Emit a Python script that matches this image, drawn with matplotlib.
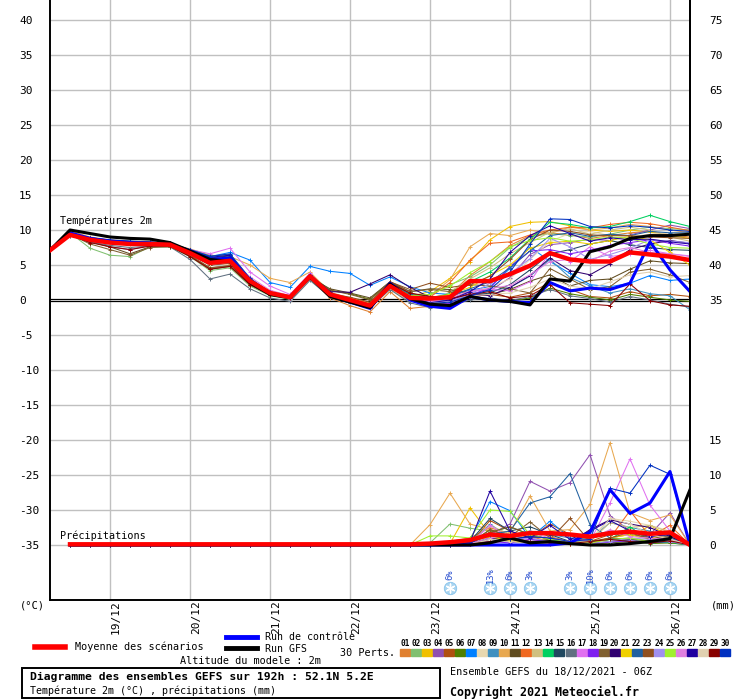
import matplotlib
matplotlib.use('Agg')
import matplotlib.pyplot as plt
import matplotlib.transforms as mtransforms
from matplotlib.patches import Rectangle
from matplotlib.lines import Line2D
import numpy as np

# ---------------- DATA ----------------
HOURS = list(range(0, 193, 6))          # 18/12 06Z .. 26/12 06Z
PR_HOURS = HOURS[1:]
DATE_HOURS = [18, 42, 66, 90, 114, 138, 162, 186]
DATE_LABELS = ['19/12', '20/12', '21/12', '22/12', '23/12', '24/12', '25/12', '26/12']
LEFT_TICKS = [40, 35, 30, 25, 20, 15, 10, 5, 0, -5, -10, -15, -20, -25, -30, -35]
LEFT_LABELS = ['40', '35', '30', '25', '20', '15', '10', '5', '0', '-5', '-10', '-15', '-20', '-25', '-30', '-35']
RIGHT_TICKS = [40, 35, 30, 25, 20, 15, 10, 5, 0, -20, -25, -30, -35]
RIGHT_LABELS = ['75', '70', '65', '60', '55', '50', '45', '40', '35', '15', '10', '5', '0']
PR_OFFSET = -35  # 0 mm is drawn at the -35 level

MEAN_T = [7.1, 9.3, 8.6, 8.2, 8.0, 8.0, 7.9, 6.7, 5.3, 5.6, 2.7, 1.0, 0.4, 3.4, 0.8, 0.0, -0.8,
          2.0, 0.3, 0.2, 0.4, 2.7, 2.7, 3.7, 4.9, 6.7, 5.8, 5.5, 5.5, 6.8, 6.5, 6.2, 5.7]
CTRL_T = [7.1, 9.6, 8.8, 8.4, 8.2, 8.1, 8.0, 7.0, 5.8, 6.0, 2.7, 0.9, 0.4, 3.5, 0.6, -0.3, -1.2,
          2.4, 0.0, -0.9, -1.2, 0.5, 0.0, -0.2, -0.4, 2.5, 1.3, 1.7, 1.5, 2.4, 8.3, 4.3, 1.2]
GFS_T = [7.1, 10.0, 9.5, 9.0, 8.8, 8.7, 8.2, 7.0, 5.8, 5.5, 2.5, 0.8, 0.3, 3.3, 0.5, -0.3, -1.1,
         2.3, 0.2, -0.6, -0.8, 0.5, 0.0, -0.2, -0.7, 3.0, 2.7, 6.9, 7.6, 8.8, 9.2, 9.2, 9.4]

PR_EARLY = [0.0, 0.0, 0.0, 0.0, 0.0, 0.0, 0.0, 0.0, 0.0, 0.0, 0.0, 0.0, 0.0, 0.0, 0.0, 0.0, 0.0]
MEAN_PR = [0.1, 0.1, 0.1, 0.1, 0.1, 0.1, 0.1, 0.1, 0.1, 0.1, 0.1, 0.1, 0.1, 0.1, 0.1, 0.1, 0.1,
           0.1, 0.2, 0.4, 0.7, 1.5, 1.3, 1.7, 1.7, 1.5, 1.2, 1.7, 1.9, 1.6, 1.8, 0.0]
CTRL_PR_LATE = [0, 0, 0, 0, 0, 0, 0, 0, 0.3, 1.8, 7.9, 4.5, 6.0, 10.5, 0]
GFS_PR_LATE = [0, 0, 0, 0, 0.3, 1.0, 0.3, 0.5, 0.2, 0, 0, 0.2, 0.5, 0.9, 7.9]

T01 = [7.1, 9.5, 8.8, 8.4, 8.2, 8.1, 8.0, 6.8, 5.0, 5.2, 2.2, 0.8, 0.2, 3.0, 0.3, -0.8, -1.7, 1.2, -1.2, -0.9, 0.8, 3.5, 5.5, 7.8, 9.2, 9.6, 9.3, 8.8, 9.2, 9.6, 9.8, 9.3, 9.0]
T02 = [7.1, 9.6, 7.4, 6.4, 6.2, 7.6, 7.6, 6.2, 4.2, 4.6, 2.0, 0.6, 0.1, 3.2, 0.6, -0.2, -0.6, 2.0, 0.6, 0.8, 2.2, 3.3, 5.0, 7.5, 9.0, 9.5, 9.2, 9.0, 9.4, 10.0, 10.4, 10.2, 10.0]
T03 = [7.1, 9.4, 8.7, 8.3, 8.1, 8.0, 7.9, 6.9, 5.4, 5.8, 2.9, 1.1, 0.5, 3.5, 0.9, 0.2, -0.5, 2.2, 0.5, 1.2, 3.1, 5.5, 8.6, 10.5, 11.1, 11.2, 10.6, 10.0, 9.8, 10.0, 9.7, 9.2, 8.8]
T04 = [7.1, 9.2, 8.4, 7.6, 7.2, 7.8, 7.8, 6.5, 5.0, 5.3, 2.4, 0.8, 0.3, 3.3, 0.7, -0.1, -0.9, 2.1, 0.2, -0.3, 0.4, 1.5, 1.3, 3.2, 6.5, 7.9, 8.2, 8.7, 8.5, 9.3, 10.0, 10.7, 10.2]
T05 = [7.1, 9.3, 8.5, 8.1, 7.9, 8.0, 7.8, 6.4, 4.6, 4.9, 2.3, 0.7, 0.2, 3.1, 0.6, -0.3, -1.0, 1.9, 0.0, -0.6, -0.3, 0.5, 0.8, 0.4, 1.0, 2.5, 1.5, 0.5, 0.3, 1.2, 0.6, 0.8, 0.5]
T06 = [7.1, 9.3, 8.6, 8.2, 8.0, 8.0, 7.9, 6.6, 5.2, 5.6, 2.8, 1.2, 0.6, 3.6, 1.4, 0.9, 0.1, 2.6, 0.9, 0.5, 0.2, 0.4, 0.1, -0.2, 0.3, 1.7, 0.9, 0.4, 0.0, 0.8, 0.4, 0.0, -0.2]
T07 = [7.1, 9.6, 8.9, 8.5, 8.4, 8.2, 8.1, 7.2, 6.2, 6.8, 5.7, 2.5, 1.8, 4.8, 4.1, 3.8, 2.1, 3.3, 1.9, 1.0, 0.8, 1.4, 1.9, 4.5, 7.6, 5.5, 3.8, 2.2, 1.9, 2.4, 3.5, 2.8, 3.0]
T08 = [7.1, 9.3, 8.6, 8.3, 8.1, 8.0, 7.9, 6.8, 5.5, 5.8, 2.8, 1.0, 0.4, 3.4, 0.7, -0.2, -1.0, 2.0, 0.2, -0.4, 0.3, 1.2, 1.8, 3.0, 5.8, 8.4, 9.5, 9.8, 9.2, 9.0, 9.4, 9.6, 9.4]
T09 = [7.1, 9.4, 8.7, 8.3, 8.1, 8.1, 7.9, 7.0, 5.9, 6.4, 3.0, 1.1, 0.5, 3.4, 0.8, 0.0, -0.9, 2.2, 0.4, -0.2, 0.0, 0.9, 1.3, 1.8, 3.4, 5.8, 3.2, 2.0, 1.0, 1.6, 0.9, 0.6, -1.4]
T10 = [7.1, 9.9, 9.0, 8.6, 8.4, 8.3, 8.1, 7.3, 6.4, 6.2, 5.0, 3.1, 2.5, 4.0, 1.1, 0.3, -0.4, 1.8, 0.3, 0.6, 2.9, 7.6, 9.5, 9.2, 10.0, 9.5, 10.4, 10.0, 10.3, 10.8, 10.5, 10.0, 9.6]
T11 = [7.1, 9.3, 8.3, 7.6, 6.6, 7.6, 7.7, 6.3, 4.4, 4.8, 2.2, 0.7, 0.3, 3.2, 1.6, 1.0, 0.3, 2.6, 1.2, 1.6, 1.5, 1.0, 0.8, 1.5, 2.7, 3.6, 2.0, 2.8, 3.0, 4.4, 5.6, 5.3, 5.2]
T12 = [7.1, 9.4, 8.6, 8.2, 8.0, 8.0, 7.9, 6.7, 5.3, 5.5, 2.6, 0.9, 0.3, 3.2, 0.6, -0.2, -1.0, 1.9, 0.1, 0.4, 2.5, 5.7, 8.1, 8.3, 9.3, 10.0, 10.4, 10.3, 10.8, 11.1, 10.9, 10.4, 9.9]
T13 = [7.1, 9.3, 8.5, 8.2, 8.0, 7.9, 7.8, 6.6, 5.2, 5.4, 2.6, 0.9, 0.3, 3.0, 0.5, -0.4, -1.2, 1.6, -0.2, -0.5, 1.2, 3.0, 4.6, 6.6, 8.2, 9.7, 10.2, 9.4, 10.0, 10.4, 10.0, 9.0, 8.4]
T14 = [7.1, 9.4, 8.7, 8.4, 8.2, 8.1, 8.0, 6.9, 5.6, 6.0, 3.0, 1.1, 0.5, 3.6, 1.0, 0.1, -0.6, 2.4, 0.7, 0.3, 0.9, 2.6, 4.0, 6.0, 8.7, 11.1, 10.8, 10.3, 10.5, 11.2, 12.1, 11.2, 10.5]
T15 = [7.1, 9.5, 8.8, 8.4, 8.3, 8.2, 8.0, 7.1, 6.0, 6.3, 2.9, 1.0, 0.4, 3.5, 0.8, 0.0, -0.8, 2.3, 0.4, -0.6, -0.4, 0.6, 1.0, 2.2, 4.3, 6.6, 7.2, 8.0, 8.5, 7.9, 7.5, 7.2, 7.1]
T16 = [7.1, 9.2, 8.3, 7.8, 7.5, 7.7, 7.6, 5.8, 3.0, 3.7, 1.6, 0.3, -0.2, 2.8, 0.4, -0.4, -1.1, 1.5, -0.4, -1.1, -0.8, 0.0, 0.3, -0.1, 0.5, 1.5, 0.6, 0.2, -0.3, 0.5, 0.0, -0.6, -1.0]
T17 = [7.1, 9.4, 8.7, 8.3, 8.1, 8.0, 8.0, 7.2, 6.6, 7.4, 4.0, 2.0, 0.8, 3.8, 0.9, 0.0, -0.8, 2.2, 0.4, -0.2, -0.2, 1.2, 1.5, 1.3, 2.6, 6.8, 5.5, 7.6, 6.2, 6.6, 7.1, 6.6, 6.3]
T18 = [7.1, 9.4, 8.6, 8.2, 8.0, 8.0, 7.9, 6.8, 5.4, 5.7, 2.7, 0.9, 0.3, 3.4, 0.7, -0.3, -1.1, 2.1, 0.1, -0.7, -0.5, 0.7, 1.7, 4.8, 7.0, 7.2, 6.6, 7.1, 7.8, 8.2, 8.6, 8.1, 7.7]
T19 = [7.1, 9.4, 8.0, 7.2, 6.4, 7.5, 7.6, 6.3, 4.6, 4.9, 2.3, 0.8, 0.3, 3.3, 1.4, 0.8, 0.0, 2.6, 1.2, 1.5, 1.2, 2.2, 2.0, 1.6, 1.0, 4.5, 3.0, 1.5, 1.9, 4.0, 4.4, 3.6, 2.5]
T20 = [7.1, 9.3, 8.5, 8.1, 8.0, 8.0, 7.9, 6.7, 5.4, 5.8, 2.8, 1.0, 0.5, 3.6, 1.2, 1.1, 2.3, 3.6, 1.8, 0.4, 0.1, 0.9, 0.6, 1.8, 3.5, 6.0, 4.2, 3.6, 5.2, 7.2, 8.0, 8.5, 8.1]
T21 = [7.1, 9.5, 8.8, 8.4, 8.2, 8.1, 8.0, 7.0, 5.6, 5.9, 2.9, 1.1, 0.5, 3.5, 0.8, 0.1, -0.7, 2.3, 0.6, 0.3, 0.8, 1.8, 3.5, 5.0, 7.4, 8.2, 8.4, 8.0, 8.5, 9.1, 8.6, 6.8, 5.0]
T22 = [7.1, 9.5, 8.9, 8.5, 8.4, 8.3, 8.1, 7.2, 6.3, 6.5, 3.0, 1.1, 0.5, 3.6, 0.9, 0.0, -0.8, 2.5, 0.8, 0.3, 0.5, 1.6, 2.6, 4.6, 7.0, 9.2, 9.6, 9.1, 9.4, 9.2, 9.8, 9.6, 9.6]
T23 = [7.1, 9.3, 8.5, 8.1, 7.9, 7.9, 7.8, 6.5, 5.0, 5.3, 2.5, 0.8, 0.3, 3.3, 0.9, 0.4, -0.3, 2.6, 1.5, 2.4, 1.8, 2.2, 3.4, 5.8, 8.6, 10.0, 9.8, 9.3, 9.2, 9.2, 9.0, 8.9, 8.8]
T24 = [7.1, 9.4, 8.6, 8.2, 8.0, 8.0, 7.9, 6.8, 5.4, 5.7, 2.6, 0.8, 0.2, 3.2, 0.6, -0.3, -1.1, 2.0, 0.2, -0.3, -0.2, 0.8, 2.4, 3.8, 5.9, 8.8, 7.6, 5.8, 6.5, 7.4, 8.6, 8.4, 8.2]
T25 = [7.1, 9.3, 8.6, 8.2, 8.0, 8.0, 7.9, 6.7, 5.2, 5.5, 2.7, 1.0, 0.4, 3.4, 0.7, -0.1, -0.9, 2.0, 0.6, 0.8, 2.0, 3.9, 5.5, 7.6, 8.5, 8.9, 8.4, 8.6, 9.0, 8.8, 8.0, 7.5, 7.4]
T26 = [7.1, 9.4, 8.6, 8.3, 8.1, 8.0, 7.9, 6.9, 5.6, 5.9, 3.3, 1.4, 0.6, 3.7, 0.9, 0.0, -0.8, 2.1, 0.2, -0.2, 0.2, 1.3, 1.6, 2.1, 3.6, 5.5, 5.8, 5.5, 7.0, 7.5, 6.8, 6.6, 6.2]
T27 = [7.1, 9.5, 8.8, 8.5, 8.3, 8.2, 8.0, 7.1, 6.1, 6.4, 2.9, 1.0, 0.4, 3.5, 0.7, -0.2, -1.2, 2.2, 0.3, -0.4, 0.0, 1.2, 3.0, 6.8, 9.2, 10.6, 9.5, 8.4, 8.9, 8.6, 8.7, 8.3, 8.0]
T28 = [7.1, 9.3, 8.5, 8.1, 7.9, 7.9, 7.8, 6.6, 5.1, 5.4, 2.5, 0.8, 0.3, 3.1, 0.5, -0.3, -1.1, 1.9, 0.1, -0.5, -0.3, 0.6, 0.8, 1.0, 1.8, 3.0, 2.0, 1.6, 2.6, 3.6, 4.0, 3.3, 3.5]
T29 = [7.1, 9.3, 8.2, 7.6, 7.2, 7.7, 7.7, 6.2, 4.4, 4.8, 2.2, 0.7, 0.3, 3.2, 0.6, -0.2, -1.0, 2.4, 1.0, 0.5, 0.2, 0.8, 1.2, 0.3, 0.6, 2.2, -0.4, -0.6, -0.8, 2.3, -0.1, -0.7, -0.9]
T30 = [7.1, 9.6, 8.9, 8.6, 8.4, 8.3, 8.1, 7.2, 6.2, 6.6, 3.1, 1.1, 0.5, 3.6, 0.8, -0.1, -1.0, 2.2, 0.3, -0.5, -0.3, 0.6, 1.5, 4.0, 8.0, 11.6, 11.5, 10.5, 10.3, 10.6, 10.4, 10.0, 9.8]

# precipitation, last 15 steps (23/12 00Z .. 26/12 06Z); earlier steps are 0
P01 = [0, 0, 0.5, 1.0, 2.5, 1.5, 2.0, 1.2, 0.5, 0.3, 1.0, 1.5, 0.8, 1.2, 0]
P02 = [0, 0.3, 3.0, 2.4, 2.0, 1.0, 0.5, 0.3, 0.2, 0.4, 0.8, 1.0, 0.5, 0.3, 0]
P03 = [0, 0, 0.2, 5.3, 1.5, 0.5, 0.3, 0.2, 0.1, 0.2, 0.5, 1.0, 2.8, 1.2, 0]
P04 = [0, 0, 0, 0.3, 1.5, 3.0, 9.1, 7.7, 8.9, 12.9, 4.2, 2.0, 1.5, 4.6, 0]
P05 = [0, 0, 0, 0.2, 3.5, 2.0, 1.0, 3.0, 1.5, 0.5, 1.5, 2.0, 1.0, 1.5, 0]
P06 = [0, 0, 0.1, 0.5, 1.2, 0.8, 0.5, 0.3, 0.2, 0.1, 0.3, 0.5, 0.2, 0.3, 0]
P07 = [0, 0, 0.3, 0.8, 6.2, 4.9, 1.0, 3.4, 1.0, 0.5, 0.8, 0.5, 0.3, 0.5, 0]
P08 = [0, 0, 0, 0.1, 0.5, 0.8, 1.2, 0.8, 0.6, 0.8, 3.8, 3.4, 2.8, 2.0, 0]
P09 = [0, 0, 0, 0.2, 3.0, 1.0, 2.0, 1.5, 1.0, 0.8, 3.2, 2.5, 2.0, 1.0, 0]
P10 = [0, 2.9, 7.4, 3.0, 2.2, 1.8, 7.0, 2.0, 2.2, 5.8, 14.6, 4.6, 3.5, 4.3, 0]
P11 = [0, 0, 0, 0.1, 2.2, 1.2, 0.5, 0.8, 0.5, 0.3, 1.0, 0.8, 0.6, 0.5, 0]
P12 = [0, 0, 0.1, 0.5, 1.5, 0.8, 1.2, 0.5, 0.3, 0.2, 1.0, 4.9, 1.2, 2.8, 0]
P13 = [0, 0, 0, 0.3, 2.8, 1.5, 1.0, 0.5, 0.2, 0.5, 3.2, 2.5, 2.8, 1.8, 0]
P14 = [0, 0, 0.1, 0.2, 1.8, 2.6, 1.5, 0.8, 0.3, 0.5, 0.8, 2.6, 0.6, 0.4, 0]
P15 = [0, 0, 0.2, 0.5, 3.8, 2.0, 2.6, 1.5, 0.5, 0.8, 2.0, 1.5, 1.0, 0.8, 0]
P16 = [0, 0, 0, 0.1, 0.8, 0.5, 0.3, 0.2, 0.1, 0.2, 0.5, 0.8, 0.3, 0.5, 0]
P17 = [0, 0, 0, 0.2, 2.8, 1.0, 0.8, 0.5, 0.3, 0.5, 6.0, 12.3, 5.7, 2.0, 0]
P18 = [0, 0, 0, 0.1, 0.5, 0.3, 0.8, 0.5, 0.3, 0.2, 0.4, 0.6, 0.3, 0.8, 0]
P19 = [0, 0, 0, 0.3, 2.2, 1.2, 3.3, 1.0, 0.5, 1.0, 1.5, 2.0, 1.0, 1.2, 0]
P20 = [0, 0, 0, 0.2, 1.0, 0.8, 1.2, 1.0, 0.3, 2.2, 3.6, 3.0, 2.5, 1.2, 0]
P21 = [0, 0, 0, 0.5, 1.2, 0.6, 0.3, 0.2, 0.1, 0.2, 1.0, 1.5, 0.8, 2.0, 0]
P22 = [0, 0, 0.3, 0.6, 1.5, 2.0, 6.0, 6.9, 10.2, 2.9, 1.0, 0.5, 0.3, 0.5, 0]
P23 = [0, 0, 0, 0.3, 1.8, 2.6, 1.5, 0.8, 3.8, 0.5, 1.0, 1.8, 0.8, 0.5, 0]
P24 = [0, 0, 0, 0.1, 0.5, 0.8, 1.0, 0.5, 0.3, 0.2, 0.5, 1.0, 0.8, 0.5, 0]
P25 = [0, 1.3, 1.3, 1.0, 5.0, 4.8, 1.5, 0.8, 0.5, 0.3, 0.8, 1.0, 0.5, 0.8, 0]
P26 = [0, 0, 0, 0.2, 1.0, 1.5, 1.8, 1.0, 0.5, 0.8, 2.2, 1.2, 1.0, 0.8, 0]
P27 = [0, 0, 0, 0.4, 7.7, 2.0, 1.0, 2.8, 0.8, 2.0, 3.5, 2.0, 1.2, 1.5, 0]
P28 = [0, 0, 0, 0.1, 0.8, 0.5, 0.3, 0.5, 0.3, 0.5, 3.8, 3.0, 1.5, 0.8, 0]
P29 = [0, 0, 0, 0.1, 0.5, 0.8, 0.5, 0.3, 0.2, 0.5, 0.8, 0.5, 0.3, 0.6, 0]
P30 = [0, 0, 0, 0.3, 1.5, 0.8, 1.2, 1.0, 0.5, 0.8, 8.1, 7.4, 11.4, 10.1, 0]

PERT_COLORS = ['#e08030', '#80c070', '#f0c000', '#9050b0', '#b05010', '#508000', '#0080ff',
               '#e8d8b0', '#4090c0', '#e8a850', '#604c20', '#f06820', '#d0c080', '#00d060',
               '#204860', '#607080', '#e070f0', '#8020f0', '#806030', '#300070', '#f0d000',
               '#2060a0', '#905020', '#a090f0', '#a0f030', '#e080e0', '#2000a0', '#e0d0b0',
               '#880000', '#0030c0']
PERT_NAMES = ['%02d' % (k + 1) for k in range(30)]

SNOW_HOURS = [120, 132, 138, 144, 156, 162, 168, 174, 180, 186]
SNOW_PCT = ['6%', '13%', '6%', '3%', '3%', '10%', '6%', '6%', '6%', '6%']

TEMPS = [T01, T02, T03, T04, T05, T06, T07, T08, T09, T10, T11, T12, T13, T14, T15,
         T16, T17, T18, T19, T20, T21, T22, T23, T24, T25, T26, T27, T28, T29, T30]
PRECS = [P01, P02, P03, P04, P05, P06, P07, P08, P09, P10, P11, P12, P13, P14, P15,
         P16, P17, P18, P19, P20, P21, P22, P23, P24, P25, P26, P27, P28, P29, P30]

# ---------------- FIGURE ----------------
W, H = 740, 700
plt.rcParams['font.family'] = ['DejaVu Sans Mono', 'DejaVu Sans']
fig = plt.figure(figsize=(W / 100, H / 100), dpi=100)


def fx(x):
    return x / W


def fy(y):
    return 1 - y / H


ax = fig.add_axes([fx(50), fy(600), 640 / W, 600 / H])
ax.set_xlim(0, 192)
ax.set_ylim(-300 / 7, 300 / 7)

GRID = '#c0c0c0'
for h in DATE_HOURS:
    ax.axvline(h, color=GRID, lw=1.0, zorder=0)
for t in LEFT_TICKS:
    if t != 0:
        ax.axhline(t, color=GRID, lw=1.0, zorder=0)
ax.axhline(0.2, color='black', lw=0.9, zorder=1)
ax.axhline(-0.2, color='black', lw=0.9, zorder=1)

# members
for temps, prec, col in zip(TEMPS, PRECS, PERT_COLORS):
    ax.plot(HOURS, temps, color=col, lw=0.75, marker='+', ms=3, mew=0.7, zorder=2)
    pr = np.array(PR_EARLY + prec, dtype=float) + PR_OFFSET
    ax.plot(PR_HOURS, pr, color=col, lw=0.75, marker='+', ms=3, mew=0.7, zorder=2)

# control / gfs / mean
ax.plot(HOURS, CTRL_T, color='#0000ff', lw=2.2, zorder=3)
ax.plot(PR_HOURS, np.array(PR_EARLY + CTRL_PR_LATE) + PR_OFFSET, color='#0000ff', lw=2.2, zorder=3)
ax.plot(HOURS, GFS_T, color='black', lw=2.2, zorder=4)
ax.plot(PR_HOURS, np.array(PR_EARLY + GFS_PR_LATE) + PR_OFFSET, color='black', lw=2.2, zorder=4)
ax.plot(HOURS, MEAN_T, color='#ff0000', lw=3.2, zorder=5)
ax.plot(PR_HOURS, np.array(MEAN_PR) + PR_OFFSET, color='#ff0000', lw=3.2, zorder=5)

# snow icons
snow_y = [(300 - 588) / 7] * len(SNOW_HOURS)
ax.scatter(SNOW_HOURS, snow_y, s=80, color='#a8d4f0', edgecolor='#88c4ec', lw=0.6, zorder=6, clip_on=False)
ax.scatter(SNOW_HOURS, snow_y, s=40, marker=(6, 2, 0), color='white', lw=1.0, zorder=7, clip_on=False)
for h, p in zip(SNOW_HOURS, SNOW_PCT):
    ax.text(h, (300 - 575) / 7, p, rotation=90, ha='center', va='center', fontsize=6.3,
            color='#2a50d0', zorder=7)

# spines
ax.spines['top'].set_visible(False)
for s in ['left', 'bottom', 'right']:
    ax.spines[s].set_color('black')
    ax.spines[s].set_linewidth(1.4)

ax.set_xticks(DATE_HOURS)
ax.set_xticklabels(DATE_LABELS, rotation=90, fontsize=8.0, va='top', ha='center')
ax.tick_params(axis='x', length=0, pad=0.5)
offset = mtransforms.ScaledTranslation(6 / 100, 0, fig.dpi_scale_trans)
for lab in ax.get_xticklabels():
    lab.set_transform(lab.get_transform() + offset)

ax.set_yticks(LEFT_TICKS)
ax.set_yticklabels(LEFT_LABELS, fontsize=8)
ax.tick_params(axis='y', length=0, pad=22.3)
for lab in ax.get_yticklabels():
    lab.set_horizontalalignment('left')

ax2 = ax.twinx()
ax2.set_ylim(ax.get_ylim())
ax2.set_yticks(RIGHT_TICKS)
ax2.set_yticklabels(RIGHT_LABELS, fontsize=8)
ax2.tick_params(axis='y', length=0, pad=13.5)
for s in ['top', 'left', 'bottom']:
    ax2.spines[s].set_visible(False)
ax2.spines['right'].set_linewidth(1.4)

# in-plot texts
fig.text(fx(60), fy(221), 'Températures 2m', fontsize=7.3, va='center', ha='left')
fig.text(fx(60), fy(536), 'Précipitations', fontsize=7.3, va='center', ha='left')
fig.text(fx(20), fy(606), '(°C)', fontsize=7.5, va='center', ha='left')
fig.text(fx(711), fy(606), '(mm)', fontsize=7.5, va='center', ha='left')

# legend
fig.add_artist(Line2D([fx(35), fx(65)], [fy(647), fy(647)], color='#ff0000', lw=4, transform=fig.transFigure))
fig.text(fx(75), fy(647), 'Moyenne des scénarios', fontsize=7.3, va='center', ha='left')
fig.add_artist(Line2D([fx(226), fx(257)], [fy(637), fy(637)], color='#0000ff', lw=3.5, transform=fig.transFigure))
fig.text(fx(265), fy(637.5), 'Run de contrôle', fontsize=7.1, va='center', ha='left')
fig.add_artist(Line2D([fx(226), fx(257)], [fy(648), fy(648)], color='black', lw=3.5, transform=fig.transFigure))
fig.text(fx(265), fy(648.5), 'Run GFS', fontsize=7.1, va='center', ha='left')
fig.text(fx(180), fy(661), 'Altitude du modele : 2m', fontsize=7.3, va='center', ha='left')
fig.text(fx(340), fy(653), '30 Perts.', fontsize=7.3, va='center', ha='left')

step = 331.0 / 30
for k, (name, col) in enumerate(zip(PERT_NAMES, PERT_COLORS)):
    x0 = 400 + step * k
    fig.add_artist(Rectangle((fx(x0), fy(656)), 10 / W, 7 / H, color=col, transform=fig.transFigure))
    fig.text(fx(x0 + 5), fy(644), name, fontsize=5.6, fontweight='bold', va='center', ha='center')

fig.add_artist(Rectangle((fx(22), fy(698)), 418 / W, 30 / H, fill=False, ec='black', lw=1.4,
                         transform=fig.transFigure))
fig.text(fx(30), fy(677), 'Diagramme des ensembles GEFS sur 192h : 52.1N 5.2E', fontsize=8.2,
         fontweight='bold', va='center', ha='left')
fig.text(fx(30), fy(691), 'Température 2m (°C) , précipitations (mm)', fontsize=7.2, va='center', ha='left')
fig.text(fx(450), fy(672), 'Ensemble GEFS du 18/12/2021 - 06Z', fontsize=7.3, va='center', ha='left')
fig.text(fx(450), fy(692), 'Copyright 2021 Meteociel.fr', fontsize=8.4, fontweight='bold', va='center', ha='left')

fig.savefig('out.png', dpi=100, facecolor='white')
